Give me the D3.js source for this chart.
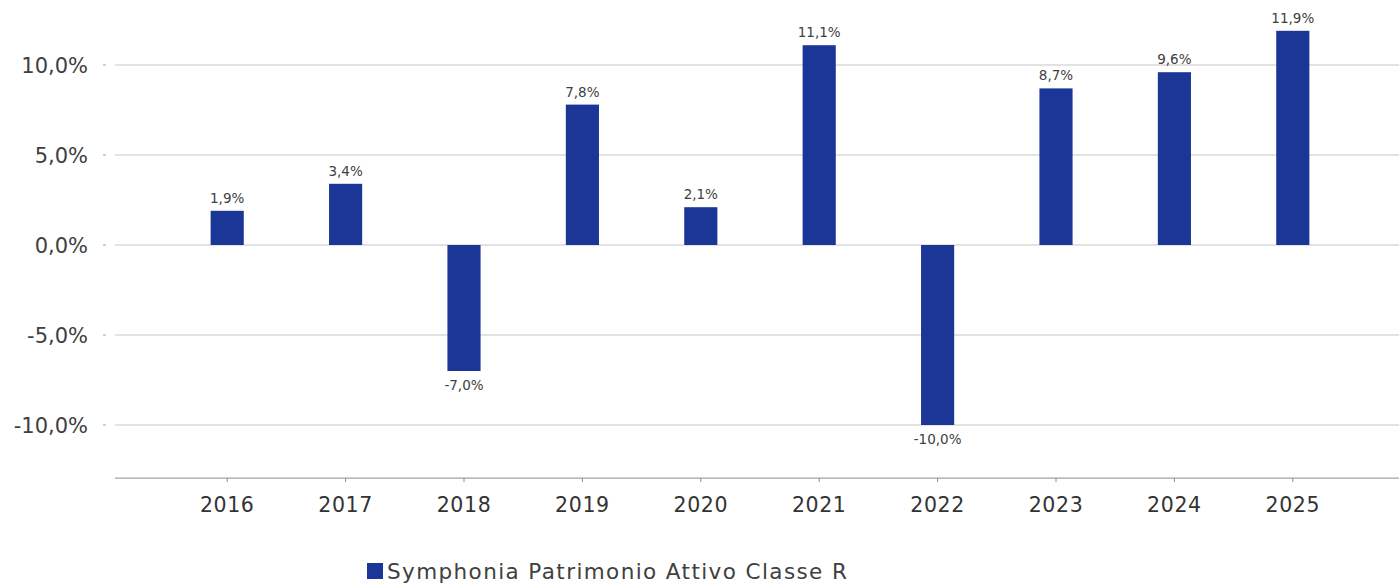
<!DOCTYPE html>
<html>
<head>
<meta charset="utf-8">
<script src="https://cdn.jsdelivr.net/npm/d3@7"></script>
<style>
  body { margin: 0; background: #fff; }
  svg { display: block; font-family: "DejaVu Sans", sans-serif; }
</style>
</head>
<body>
<div id="chart"></div>
<script>
// Rendimenti annuali - Symphonia Patrimonio Attivo Classe R
const years = ["2016", "2017", "2018", "2019", "2020", "2021", "2022", "2023", "2024", "2025"];
const returns = [1.9, 3.4, -7.0, 7.8, 2.1, 11.1, -10.0, 8.7, 9.6, 11.9];
const yTicks = [-10, -5, 0, 5, 10];
const seriesName = "Symphonia Patrimonio Attivo Classe R";

const width = 1399;
const height = 584;
const barColor = "#1c3698";
const textColor = "#404040";

const fmt = (v) => v.toFixed(1).replace(".", ",") + "%";

const svg = d3
  .select("#chart")
  .append("svg")
  .attr("width", width)
  .attr("height", height);

const x = d3
  .scaleBand()
  .domain(years)
  .range([168, 1352])
  .paddingInner(0.72)
  .paddingOuter(0.36);

const y = d3.scaleLinear().domain([-10, 10]).range([425, 65]);
const plotLeft = 115;
const plotRight = width;
const axisY = y(-12.95);

// gridlines
svg
  .append("g")
  .selectAll("line")
  .data(yTicks)
  .enter()
  .append("line")
  .attr("x1", plotLeft)
  .attr("x2", plotRight)
  .attr("y1", (d) => y(d))
  .attr("y2", (d) => y(d))
  .attr("stroke", "#d9d9d9")
  .attr("stroke-width", 1.5);

// y axis labels + small ticks
const yAxis = svg.append("g");
yAxis
  .selectAll("line")
  .data(yTicks)
  .enter()
  .append("line")
  .attr("x1", 103)
  .attr("x2", 106)
  .attr("y1", (d) => y(d))
  .attr("y2", (d) => y(d))
  .attr("stroke", "#bfbfbf")
  .attr("stroke-width", 1.5);
yAxis
  .selectAll("text")
  .data(yTicks)
  .enter()
  .append("text")
  .attr("x", 88)
  .attr("y", (d) => y(d))
  .attr("dy", "0.36em")
  .attr("text-anchor", "end")
  .attr("font-size", 21)
  .attr("fill", textColor)
  .text((d) => fmt(d));

// bars
svg
  .append("g")
  .selectAll("rect")
  .data(returns)
  .enter()
  .append("rect")
  .attr("x", (d, i) => x(years[i]))
  .attr("width", x.bandwidth())
  .attr("y", (d) => y(Math.max(0, d)))
  .attr("height", (d) => Math.abs(y(d) - y(0)))
  .attr("fill", barColor);

// value labels
svg
  .append("g")
  .selectAll("text")
  .data(returns)
  .enter()
  .append("text")
  .attr("x", (d, i) => x(years[i]) + x.bandwidth() / 2)
  .attr("y", (d) => (d >= 0 ? y(d) - 8 : y(d) + 19))
  .attr("text-anchor", "middle")
  .attr("font-size", 13.5)
  .attr("fill", textColor)
  .text((d) => fmt(d));

// x axis
const xAxis = svg.append("g");
xAxis
  .append("line")
  .attr("x1", plotLeft)
  .attr("x2", plotRight)
  .attr("y1", axisY)
  .attr("y2", axisY)
  .attr("stroke", "#8c8c8c")
  .attr("stroke-width", 1);
xAxis
  .selectAll("line.tick")
  .data(years)
  .enter()
  .append("line")
  .attr("class", "tick")
  .attr("x1", (d) => x(d) + x.bandwidth() / 2)
  .attr("x2", (d) => x(d) + x.bandwidth() / 2)
  .attr("y1", axisY)
  .attr("y2", axisY + 4)
  .attr("stroke", "#8c8c8c");
xAxis
  .selectAll("text")
  .data(years)
  .enter()
  .append("text")
  .attr("x", (d) => x(d) + x.bandwidth() / 2)
  .attr("y", 512)
  .attr("text-anchor", "middle")
  .attr("font-size", 20.5)
  .attr("letter-spacing", 0.6)
  .attr("fill", "#333")
  .text((d) => d);

// legend
const legend = svg.append("g");
legend
  .append("rect")
  .attr("x", 367)
  .attr("y", 563)
  .attr("width", 16)
  .attr("height", 16)
  .attr("fill", barColor);
legend
  .append("text")
  .attr("x", 387)
  .attr("y", 579)
  .attr("font-size", 21.5)
  .attr("letter-spacing", 1.4)
  .attr("fill", textColor)
  .text(seriesName);
</script>
</body>
</html>
